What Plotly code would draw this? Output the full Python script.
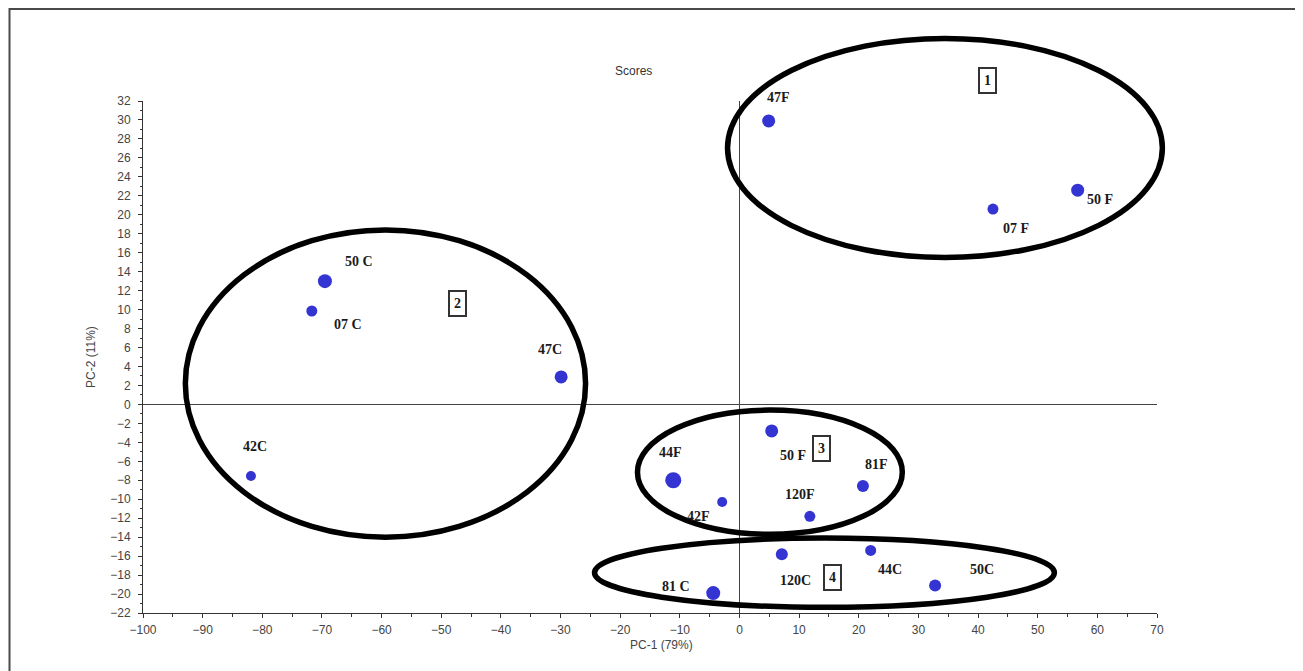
import plotly.graph_objects as go

# ---- data ----
sample_labels = ["47F", "07 F", "50 F", "50 C", "07 C", "47C", "42C",
                 "50 F", "44F", "42F", "81F", "120F",
                 "120C", "44C", "50C", "81 C"]
pc1_scores = [4.9, 42.5, 56.7, -69.5, -71.7, -29.9, -81.9,
              5.4, -11.1, -2.9, 20.7, 11.8,
              7.1, 22.0, 32.8, -4.4]
pc2_scores = [29.9, 20.6, 22.6, 13.0, 9.85, 2.9, -7.55,
              -2.8, -8.0, -10.3, -8.6, -11.8,
              -15.8, -15.4, -19.1, -19.9]
group_ids = ["1", "2", "3", "4"]
x_tick_values = list(range(-100, 71, 10))
y_tick_values = list(range(-22, 33, 2))

# ---- styling / placement (not data) ----
XMIN, XMAX = -100, 70
YMIN, YMAX = -22, 32
PAGE_OFF = 8  # browser body margin
L, T, PW, PH = 143 - PAGE_OFF, 101 - PAGE_OFF, 1014, 512
W, H = 1303 - PAGE_OFF, 671 - PAGE_OFF
marker_px = [13, 11, 13, 14, 11, 13, 10, 13, 16, 10, 12, 11, 12, 11, 12, 14]
label_offsets = [(10, -23), (23, 19), (22, 9), (34, -20), (36, 13), (-11, -27),
                 (4, -29), (21, 25), (-3, -28), (-24, 14), (14, -21), (-10, -22),
                 (14, 26), (19, 19), (47, -16), (-37, -7)]
# group ellipses in data units: x0, x1, y0, y1
ellipses = [(-2.0, 70.9, 15.5, 38.6),
            (-92.9, -25.8, -14.0, 18.4),
            (-17.1, 27.3, -13.7, -0.6),
            (-24.3, 52.8, -21.4, -14.1)]
group_box_pos = [(41.6, 34.2), (-47.3, 10.6), (13.7, -4.6), (15.6, -18.3)]


def px(x):
    return (x - XMIN) / (XMAX - XMIN)


def py(y):
    return (y - YMIN) / (YMAX - YMIN)


def ppx(pix):  # reference pixel -> paper x
    return (pix - 143) / PW


def ppy(pix):  # reference pixel -> paper y
    return (613 - pix) / PH


fig = go.Figure()
fig.add_trace(go.Scatter(
    x=pc1_scores, y=pc2_scores, mode="markers",
    marker=dict(color="#3434d2", size=marker_px, opacity=1, line=dict(width=0)),
    cliponaxis=False, showlegend=False, hoverinfo="x+y",
))

shapes = []
# outer frame
shapes.append(dict(type="rect", xref="paper", yref="paper",
                   x0=ppx(9.5), x1=ppx(1330), y0=ppy(700), y1=ppy(9),
                   line=dict(color="#4a4a4a", width=2), layer="below"))
for (x0, x1, y0, y1) in ellipses:
    shapes.append(dict(type="circle", xref="paper", yref="paper",
                       x0=px(x0), x1=px(x1), y0=py(y0), y1=py(y1),
                       line=dict(color="black", width=5.5)))

annotations = []
for lab, x, y, (dx, dy) in zip(sample_labels, pc1_scores, pc2_scores, label_offsets):
    annotations.append(dict(x=x, y=y, xref="x", yref="y", text="<b>%s</b>" % lab,
                            showarrow=False, xshift=dx, yshift=-dy,
                            font=dict(family="Liberation Serif", size=14, color="#1a1a1a")))
for gid, (gx, gy) in zip(group_ids, group_box_pos):
    annotations.append(dict(x=px(gx), y=py(gy), xref="paper", yref="paper",
                            xanchor="center", yanchor="middle",
                            text="<b>%s</b>" % gid,
                            showarrow=False, bordercolor="#333333", borderwidth=2,
                            borderpad=4, bgcolor="white",
                            font=dict(family="Liberation Serif", size=14, color="#1a1a1a")))
annotations.append(dict(x=ppx(633), y=ppy(71), xref="paper", yref="paper",
                        xanchor="center", yanchor="middle",
                        text="Scores", showarrow=False,
                        font=dict(family="Liberation Sans", size=12, color="#333333")))
annotations.append(dict(x=ppx(661), y=ppy(645), xref="paper", yref="paper",
                        xanchor="center", yanchor="middle",
                        text="PC-1 (79%)", showarrow=False,
                        font=dict(family="Liberation Sans", size=12, color="#444444")))
annotations.append(dict(x=ppx(91), y=ppy(357), xref="paper", yref="paper",
                        xanchor="center", yanchor="middle",
                        text="PC-2 (11%)", showarrow=False, textangle=-90,
                        font=dict(family="Liberation Sans", size=12, color="#444444")))

fig.update_layout(
    width=W, height=H,
    margin=dict(l=L, r=W - L - PW, t=T, b=H - T - PH),
    paper_bgcolor="white", plot_bgcolor="white",
    shapes=shapes, annotations=annotations,
    showlegend=False,
)
fig.update_xaxes(
    range=[XMIN, XMAX], tickmode="array", tickvals=x_tick_values,
    showgrid=False, showline=True, linecolor="#333333", linewidth=1,
    ticks="outside", ticklen=4, tickcolor="#333333",
    minor=dict(dtick=5, ticks="outside", ticklen=3, tickcolor="#333333", showgrid=False),
    zeroline=True, zerolinecolor="#444444", zerolinewidth=1,
    ticklabelstandoff=2,
    tickfont=dict(family="Liberation Sans", size=12, color="#444444"),
)
fig.update_yaxes(
    range=[YMIN, YMAX], tickmode="array", tickvals=y_tick_values,
    showgrid=False, showline=True, linecolor="#333333", linewidth=1,
    ticks="outside", ticklen=4, tickcolor="#333333",
    minor=dict(dtick=1, ticks="outside", ticklen=2, tickcolor="#333333", showgrid=False),
    zeroline=True, zerolinecolor="#444444", zerolinewidth=1,
    ticklabelstandoff=5,
    tickfont=dict(family="Liberation Sans", size=12, color="#444444"),
)

fig.write_html("out.html")
